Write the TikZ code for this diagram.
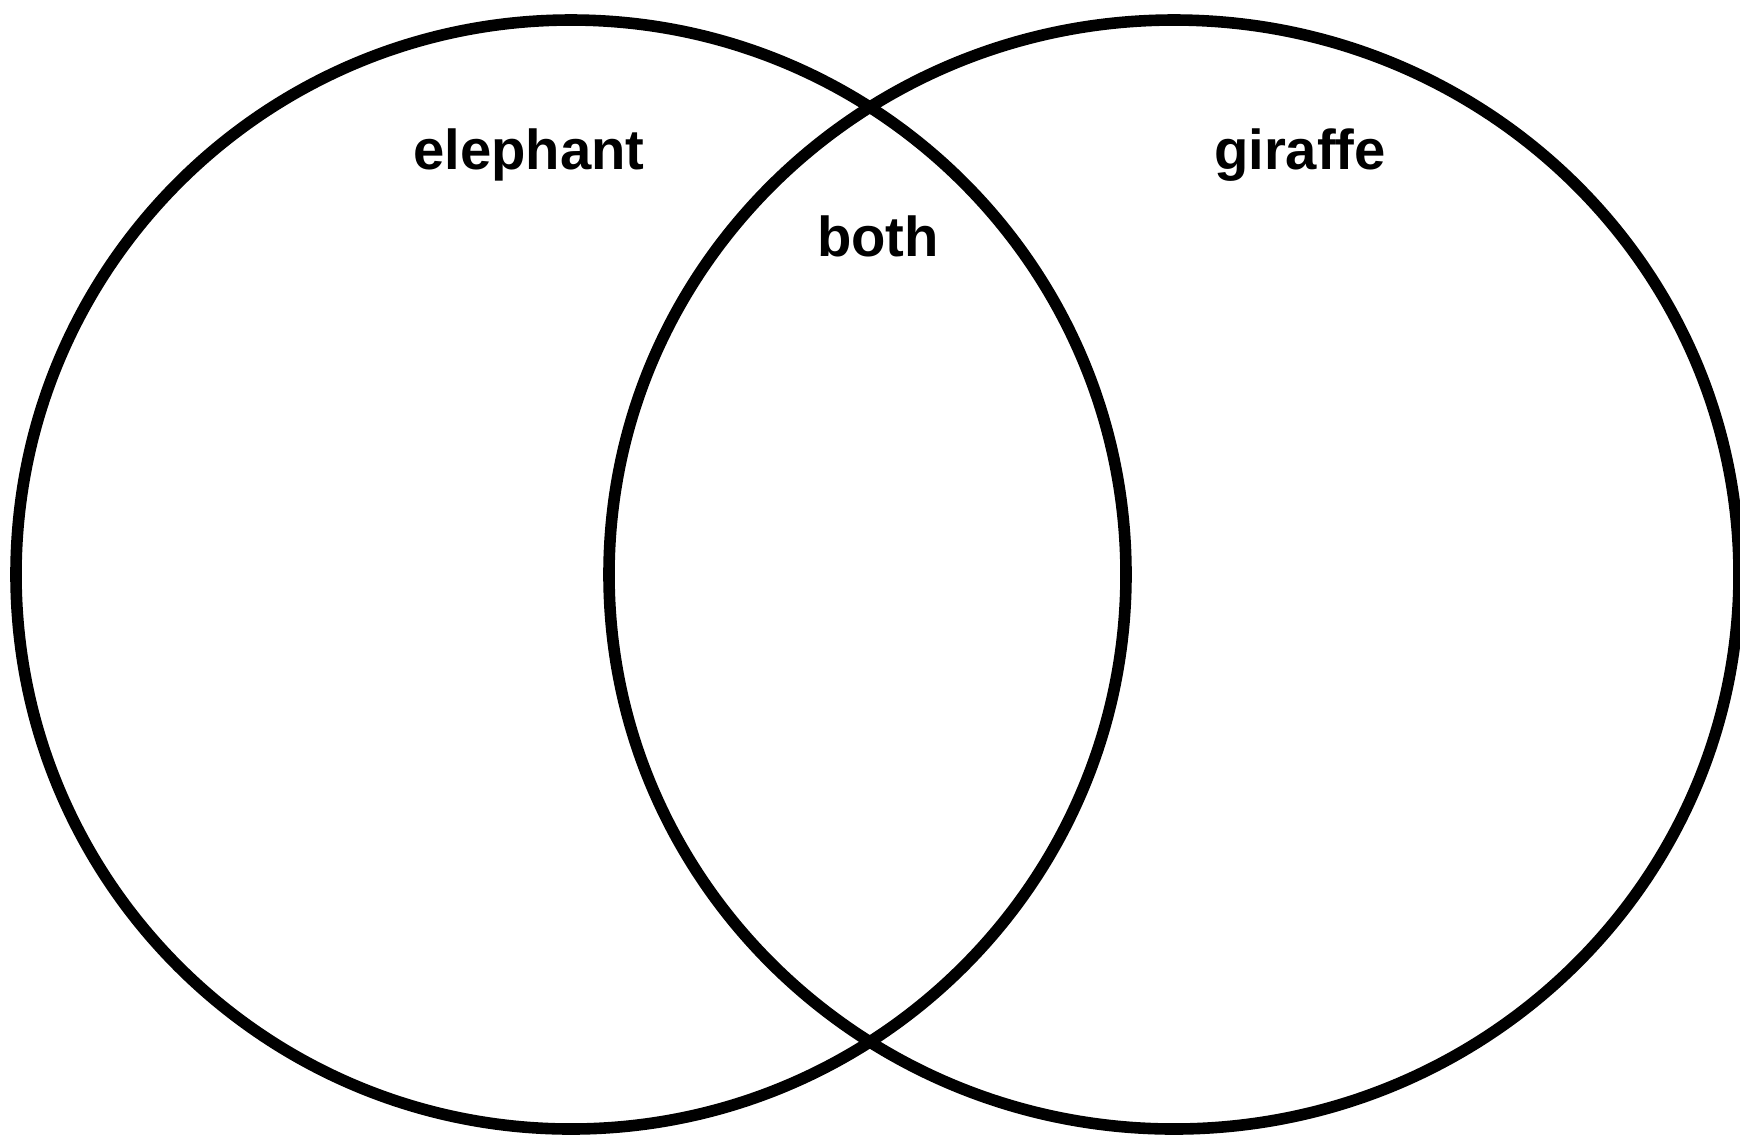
\documentclass[tikz,border=0pt]{standalone}
\usepackage{fontspec}
\setmainfont{Liberation Sans}
\usetikzlibrary{shapes.geometric, positioning}

\begin{document}
\begin{tikzpicture}[
        % Global Styles
        set/.style={ellipse, draw=black, line width=3.3pt, inner sep=0pt, outer sep=0pt, minimum height=11.09cm},
        setlabel/.style={anchor=base, font=\fontsize{16}{19}\selectfont\bfseries, inner sep=0pt}
    ]
    \useasboundingbox (0,0) rectangle (17.40,-11.39);

    % --- The two sets ---
    \node (Elephant) [set, minimum width=11.10cm] at (5.71,-5.745) {};
    \node (Giraffe)  [set, minimum width=11.30cm] at (11.74,-5.745) {};

    % --- Labels ---
    \node (ElephantLbl) [setlabel] at (5.29,-1.69) {elephant};
    \node (BothLbl)     [setlabel] at (8.78,-2.56) {both};
    \node (GiraffeLbl)  [setlabel] at (13.00,-1.69) {giraffe};

\end{tikzpicture}
\end{document}
